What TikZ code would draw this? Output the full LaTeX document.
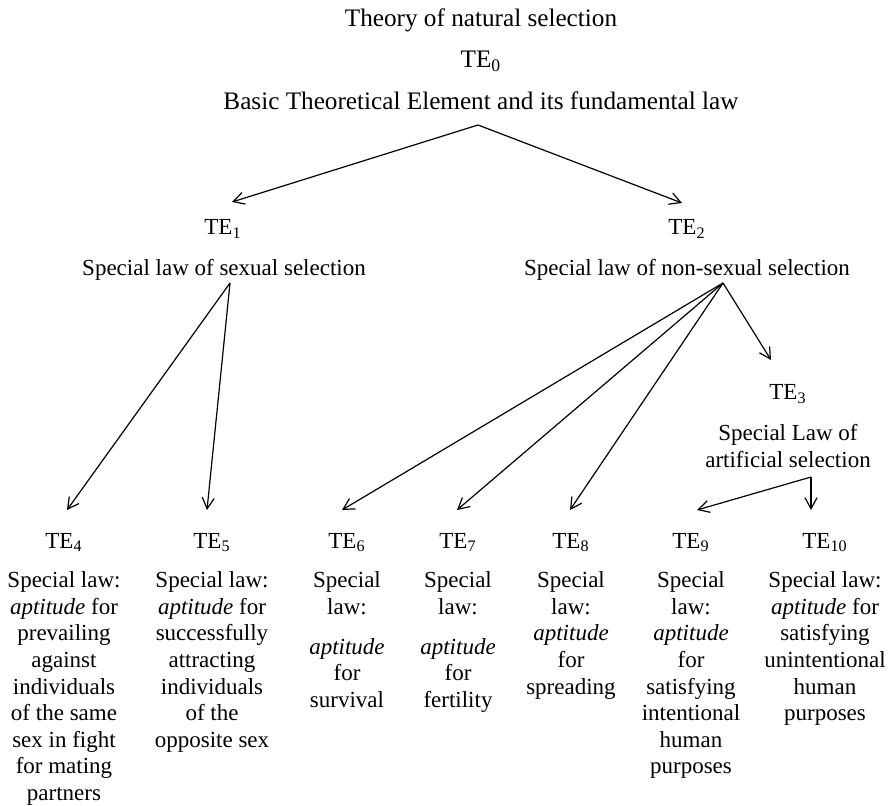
\documentclass[tikz,border=0pt]{standalone}
\usepackage{fontspec}
\setmainfont{Liberation Serif}
\usetikzlibrary{arrows.meta}
\newcommand{\TEsub}[1]{TE\textsubscript{#1}}
\tikzset{
  toptext/.style={inner sep=0pt, anchor=base, font={\fontsize{12.6pt}{15pt}\selectfont}},
  tehead/.style={inner sep=0pt, anchor=base, font={\fontsize{11.5pt}{13.3pt}\selectfont}},
  lawtext/.style={inner sep=0pt, anchor=north, align=center, font={\fontsize{11.5pt}{13.3pt}\selectfont}},
  link/.style={-{Straight Barb[length=5.5pt,width=6pt]}, line width=0.6pt}
}
\begin{document}
\begin{tikzpicture}[x=0.5pt, y=-0.5pt]
  \useasboundingbox (0,0) rectangle (892,806);

  \node[toptext] (title) at (481,27) {Theory of natural selection};
  \node[toptext] (te0) at (481,68) {\TEsub{0}};
  \node[toptext] (law0) at (481,110) {Basic Theoretical Element and its fundamental law};

  \node[tehead] (te1) at (223,235) {\TEsub{1}};
  \node[tehead] (law1) at (224,276) {Special law of sexual selection};
  \node[tehead] (te2) at (687,235) {\TEsub{2}};
  \node[tehead] (law2) at (687,276) {Special law of non-sexual selection};

  \node[tehead] (te3) at (788,400) {\TEsub{3}};
  \node[lawtext] (law3) at (788,424.3) {Special Law of\\artificial selection};

  \node[tehead] (te4) at (64,548) {\TEsub{4}};
  \node[tehead] (te5) at (212,548) {\TEsub{5}};
  \node[tehead] (te6) at (347,548) {\TEsub{6}};
  \node[tehead] (te7) at (458,548) {\TEsub{7}};
  \node[tehead] (te8) at (571,548) {\TEsub{8}};
  \node[tehead] (te9) at (691,548) {\TEsub{9}};
  \node[tehead] (te10) at (825,548) {\TEsub{10}};

  \node[lawtext] (law4) at (64,571.3) {Special law:\\\textit{aptitude} for\\prevailing\\against\\individuals\\of the same\\sex in fight\\for mating\\partners};
  \node[lawtext] (law5) at (212,571.3) {Special law:\\\textit{aptitude} for\\successfully\\attracting\\individuals\\of the\\opposite sex};
  \node[lawtext] (law6) at (347,571.3) {Special\\law:\\[6.7pt]\textit{aptitude}\\for\\survival};
  \node[lawtext] (law7) at (458,571.3) {Special\\law:\\[6.7pt]\textit{aptitude}\\for\\fertility};
  \node[lawtext] (law8) at (571,571.3) {Special\\law:\\\textit{aptitude}\\for\\spreading};
  \node[lawtext] (law9) at (691,571.3) {Special\\law:\\\textit{aptitude}\\for\\satisfying\\intentional\\human\\purposes};
  \node[lawtext] (law10) at (825,571.3) {Special law:\\\textit{aptitude} for\\satisfying\\unintentional\\human\\purposes};

  \coordinate (fork0) at (478,125);
  \coordinate (fork1) at (230,283);
  \coordinate (fork2) at (723,283);
  \coordinate (fork3) at (811,477);
  \coordinate (tip1) at (232,202);
  \coordinate (tip2) at (682,203);
  \coordinate (tip3) at (771,360);
  \coordinate (tip4) at (67,510);
  \coordinate (tip5) at (207,510);
  \coordinate (tip6) at (342,510);
  \coordinate (tip7) at (457,510);
  \coordinate (tip8) at (570,510);
  \coordinate (tip9) at (697,510);
  \coordinate (tip10) at (811,510);

  \foreach \t in {1,2} \draw[link] (fork0) -- (tip\t);
  \foreach \t in {4,5} \draw[link] (fork1) -- (tip\t);
  \foreach \t in {6,7,8,3} \draw[link] (fork2) -- (tip\t);
  \draw[link] (fork3) -- (tip9);
  \draw[link] (fork3) -- (tip10);
\end{tikzpicture}
\end{document}
